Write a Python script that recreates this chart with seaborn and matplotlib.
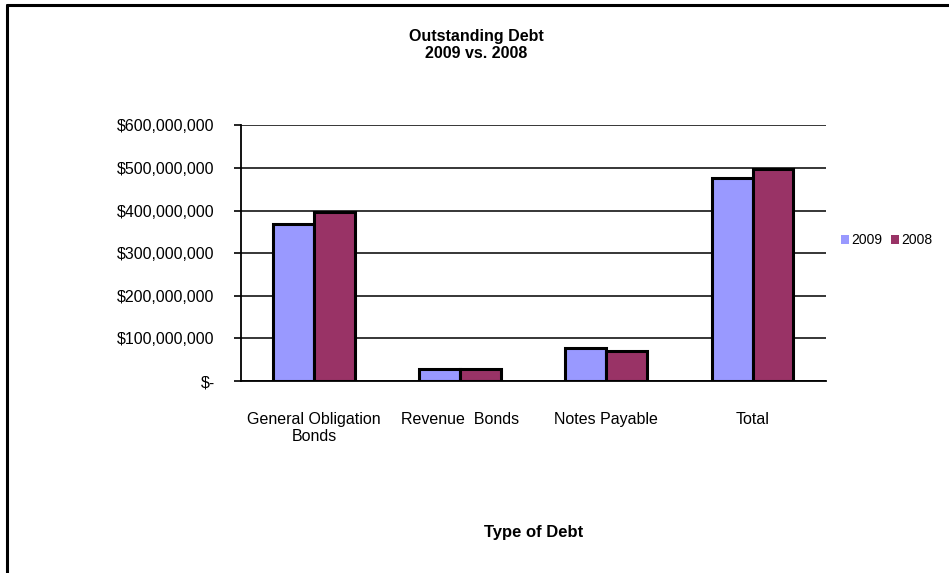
import numpy as np
import pandas as pd
import matplotlib
matplotlib.use("Agg")
import matplotlib.pyplot as plt
import matplotlib.ticker as mticker
from matplotlib.lines import Line2D
import seaborn as sns

# Data
categories = ["General Obligation\nBonds", "Revenue  Bonds", "Notes Payable", "Total"]
years = ["2009", "2008"]
debt_2009 = [368_000_000, 29_000_000, 78_000_000, 476_000_000]
debt_2008 = [397_000_000, 29_000_000, 71_000_000, 499_000_000]
palette = {"2009": "#9999FF", "2008": "#993366"}

df = pd.DataFrame({
    "category": categories * 2,
    "year": ["2009"] * 4 + ["2008"] * 4,
    "amount": debt_2009 + debt_2008,
})

sns.set_theme(style="white")
plt.rcParams["font.family"] = ["Liberation Sans", "DejaVu Sans"]
plt.rcParams.update({"text.color": "black", "axes.labelcolor": "black",
                     "xtick.color": "black", "ytick.color": "black"})

fig = plt.figure(figsize=(9.49, 5.73), dpi=100)
ax = fig.add_axes([0.254, 0.335, 0.616, 0.446])

sns.barplot(data=df, x="category", y="amount", hue="year", hue_order=years,
            order=categories, palette=palette, width=0.56, gap=0,
            edgecolor="black", linewidth=2.2, saturation=1, ax=ax, zorder=3)

ax.set_ylim(0, 600_000_000)
ax.set_xlim(-0.5, len(categories) - 0.5)
ax.yaxis.set_major_locator(mticker.MultipleLocator(100_000_000))
ax.yaxis.set_major_formatter(mticker.FuncFormatter(
    lambda v, _: "$-" if v == 0 else f"${v:,.0f}"))
ax.grid(axis="y", color="black", linewidth=1.1, zorder=0)
ax.grid(axis="x", visible=False)

# category labels at centres, tick marks at boundaries
ax.set_xticks(range(len(categories)))
ax.set_xticklabels(categories, fontsize=11.5)
ax.set_xticks(np.arange(-0.5, len(categories)), minor=True)
ax.tick_params(axis="x", which="major", length=0, pad=22)
ax.tick_params(axis="x", which="minor", length=5, width=1.2, color="black", direction="out")
ax.tick_params(axis="y", length=5, width=1.2, color="black", direction="out",
               labelsize=11.5, pad=14)
ax.tick_params(axis="both", left=True, bottom=True)

for side in ["top", "right"]:
    ax.spines[side].set_visible(False)
for side in ["left", "bottom"]:
    ax.spines[side].set_color("black")
    ax.spines[side].set_linewidth(1.3)

ax.set_ylabel("")
ax.set_xlabel("Type of Debt", fontsize=12, fontweight="bold", labelpad=58)

fig.text(0.502, 0.922, "Outstanding Debt\n2009 vs. 2008", ha="center", va="center",
         fontsize=11.5, fontweight="bold", linespacing=1.15)

ax.legend(loc="center left", bbox_to_anchor=(1.005, 0.55), ncol=2, frameon=False,
          fontsize=10, handlelength=0.6, handleheight=0.6, handletextpad=0.15,
          columnspacing=0.6)
for h in ax.get_legend().legend_handles:
    h.set_edgecolor("none")

# outer frame (only left and top edges visible in the crop)
fig.add_artist(Line2D([7 / 949, 7 / 949], [0, 1 - 5 / 573], color="black", lw=2.2,
                      transform=fig.transFigure))
fig.add_artist(Line2D([7 / 949, 1], [1 - 5 / 573, 1 - 5 / 573], color="black", lw=2.2,
                      transform=fig.transFigure))

fig.savefig("out.png", dpi=100, facecolor="white")
